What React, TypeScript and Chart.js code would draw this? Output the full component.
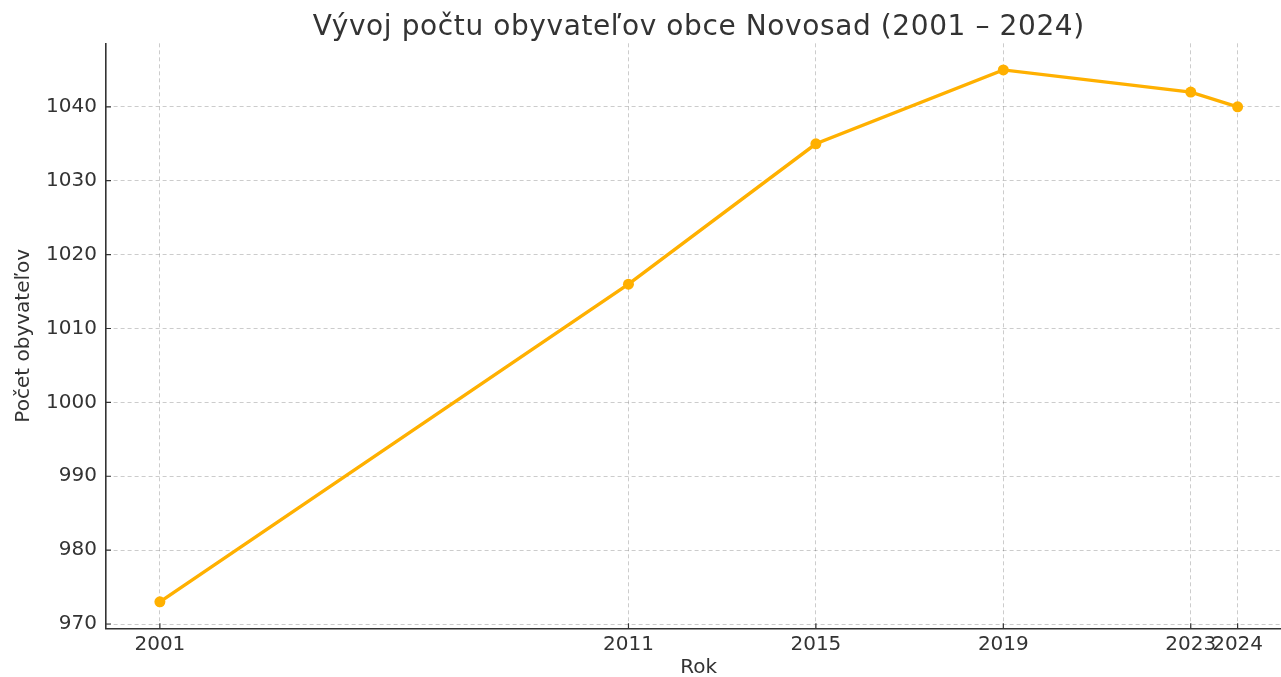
import React, { useEffect, useRef } from "react";
import { Chart, registerables } from "chart.js";

Chart.register(...registerables);

const chartTitle = "Vývoj počtu obyvateľov obce Novosad (2001 – 2024)";
const xAxisTitle = "Rok";
const yAxisTitle = "Počet obyvateľov";
const years = [2001, 2011, 2015, 2019, 2023, 2024];
const population = [973, 1016, 1035, 1045, 1042, 1040];
const yTickValues = [970, 980, 990, 1000, 1010, 1020, 1030, 1040];

const FONT = "'DejaVu Sans', Verdana, sans-serif";
const TEXT = "#333333";
const LINE = "#FFB000";

const innerTicks = {
  id: "innerTicks",
  afterDraw(chart: any) {
    const { ctx, chartArea } = chart;
    const xs = chart.scales.x;
    const ys = chart.scales.y;
    ctx.save();
    ctx.strokeStyle = "#333333";
    ctx.lineWidth = 1.2;
    ctx.beginPath();
    xs.ticks.forEach((t: any) => {
      const px = xs.getPixelForValue(t.value);
      ctx.moveTo(px, chartArea.bottom);
      ctx.lineTo(px, chartArea.bottom - 5);
    });
    ys.ticks.forEach((t: any) => {
      const py = ys.getPixelForValue(t.value);
      ctx.moveTo(chartArea.left, py);
      ctx.lineTo(chartArea.left + 5, py);
    });
    ctx.stroke();
    ctx.restore();
  },
};

const axesTitle = {
  id: "axesTitle",
  afterDraw(chart: any) {
    const { ctx, chartArea } = chart;
    ctx.save();
    ctx.fillStyle = TEXT;
    ctx.font = `normal 28px ${FONT}`;
    try {
      (ctx as any).letterSpacing = "0.6px";
    } catch (e) {}
    ctx.textAlign = "center";
    ctx.textBaseline = "alphabetic";
    ctx.fillText(chartTitle, (chartArea.left + chartArea.right) / 2, 34.5);
    ctx.restore();
  },
};

export default function App() {
  const ref = useRef<HTMLCanvasElement>(null);
  useEffect(() => {
    if (!ref.current) return;
    const chart = new Chart(ref.current, {
      type: "line",
      data: {
        datasets: [
          {
            data: years.map((yr, i) => ({ x: yr, y: population[i] })),
            borderColor: LINE,
            backgroundColor: LINE,
            borderWidth: 3.4,
            pointRadius: 5.5,
            pointBorderWidth: 0,
            pointBackgroundColor: LINE,
            tension: 0,
          },
        ],
      },
      options: {
        animation: false,
        responsive: false,
        devicePixelRatio: 1,
        layout: { padding: { top: 43.3, left: 0, right: 0, bottom: 0 } },
        plugins: {
          legend: { display: false },
          tooltip: { enabled: false },
          title: { display: false },
        },
        scales: {
          x: {
            type: "linear",
            min: 1999.85,
            max: 2025.15,
            afterBuildTicks: (s: any) => {
              s.ticks = years.map((v) => ({ value: v }));
            },
            afterFit: (s: any) => {
              s.height = 48.7;
            },
            ticks: {
              autoSkip: false,
              maxRotation: 0,
              minRotation: 0,
              padding: 4,
              color: TEXT,
              font: { family: FONT, size: 20 },
              callback: (v: any) => String(v),
            },
            grid: {
              color: "rgba(0,0,0,0.2)",
              lineWidth: 1,
              drawTicks: false,
            },
            border: { display: true, color: "#333333", width: 1.6, dash: [4, 3] },
            title: {
              display: true,
              text: xAxisTitle,
              color: TEXT,
              font: { family: FONT, size: 20, lineHeight: 1.2 },
              padding: { top: 0, bottom: -3 },
            },
          },
          y: {
            type: "linear",
            min: 969.42,
            max: 1048.6,
            afterBuildTicks: (s: any) => {
              s.ticks = yTickValues.map((v) => ({ value: v }));
            },
            afterFit: (s: any) => {
              s.width = 106;
            },
            ticks: {
              padding: 9,
              color: TEXT,
              font: { family: FONT, size: 20 },
              callback: (v: any) => String(v),
            },
            grid: {
              color: "rgba(0,0,0,0.2)",
              lineWidth: 1,
              drawTicks: false,
            },
            border: { display: true, color: "#333333", width: 1.6, dash: [4, 3] },
            title: {
              display: true,
              text: yAxisTitle,
              color: TEXT,
              font: { family: FONT, size: 20, lineHeight: 1.2 },
              padding: { top: 12, bottom: 0 },
            },
          },
        },
      },
      plugins: [innerTicks, axesTitle],
    } as any);
    return () => chart.destroy();
  }, []);

  return (
    <div
      style={{
        position: "fixed",
        left: 0,
        top: 0,
        width: 1281,
        height: 677,
        overflow: "hidden",
        background: "#ffffff",
      }}
    >
      <canvas ref={ref} width={1297} height={677} style={{ display: "block", width: 1297, height: 677 }} />
    </div>
  );
}
